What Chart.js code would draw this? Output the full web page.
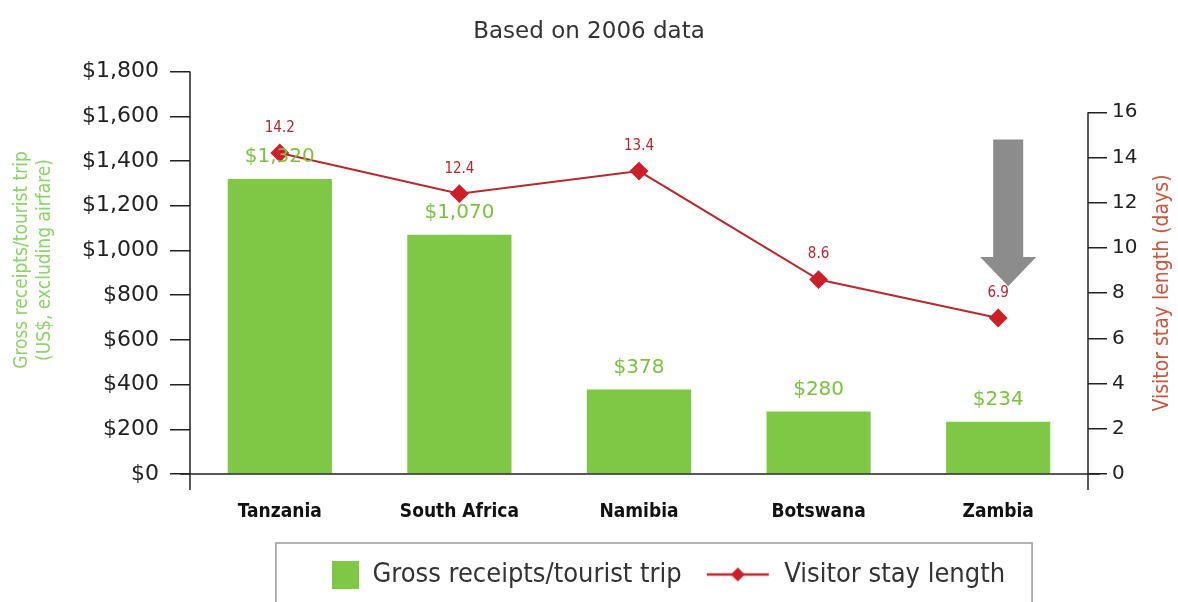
<!DOCTYPE html>
<html>
<head>
<meta charset="utf-8">
<script src="https://cdn.jsdelivr.net/npm/chart.js@4.4.0/dist/chart.umd.min.js"></script>
<style>
  html, body { margin: 0; padding: 0; background: #fff; }
  #wrap { width: 1178px; height: 602px; position: relative; }
</style>
</head>
<body>
<div id="wrap"><canvas id="grafico"></canvas></div>
<script>
// dados (2006)
const paises = ['Tanzania', 'South Africa', 'Namibia', 'Botswana', 'Zambia'];
const receitas = [1320, 1070, 378, 280, 234];      // US$ por viagem
const permanencia = [14.2, 12.4, 13.4, 8.6, 6.9];   // dias
const ticksReceita = [0, 200, 400, 600, 800, 1000, 1200, 1400, 1600, 1800];
const ticksDias = [0, 2, 4, 6, 8, 10, 12, 14, 16];

const fonte = "'DejaVu Sans', sans-serif";
const fonteCond = "'DejaVu Sans Condensed', 'Liberation Sans Narrow', sans-serif";

const verde = '#7ec845';
const vermelho = '#b8282e';

// simbolos da legenda
function simboloBarra() {
  const c = document.createElement('canvas');
  c.width = 66; c.height = 28;
  const g = c.getContext('2d');
  g.fillStyle = verde;
  g.fillRect(39, 0, 27, 28);
  return c;
}
function simboloLinha() {
  const c = document.createElement('canvas');
  c.width = 66; c.height = 18;
  const g = c.getContext('2d');
  g.strokeStyle = vermelho; g.lineWidth = 2.5;
  g.beginPath(); g.moveTo(2, 9); g.lineTo(64, 9); g.stroke();
  g.fillStyle = '#cc1f2a';
  g.beginPath(); g.moveTo(33, 2); g.lineTo(40, 9); g.lineTo(33, 16); g.lineTo(26, 9); g.closePath(); g.fill();
  return c;
}
const simbolos = [simboloBarra(), simboloLinha()];

// eixos, rotulos de valores, titulos dos eixos, seta e moldura da legenda
const extras = {
  id: 'extras',
  afterLayout(chart) {
    // legenda um pouco deslocada para a direita
    const lg = chart.legend;
    if (!lg) return;
    lg.left += 10; lg.right += 10;
    lg.legendHitBoxes.forEach(h => { h.left += 10; });
  },
  afterDatasetsDraw(chart) {
    const { ctx, chartArea: a, scales } = chart;
    const y2 = scales.y2;
    const x = scales.x;
    ctx.save();

    ctx.strokeStyle = '#222';
    ctx.lineWidth = 1.5;
    ctx.beginPath();
    ctx.moveTo(a.left, a.top); ctx.lineTo(a.left, a.bottom + 16);
    ctx.moveTo(a.left - 10, a.bottom); ctx.lineTo(a.right + 12, a.bottom);
    ctx.moveTo(a.right, y2.getPixelForValue(ticksDias[ticksDias.length - 1])); ctx.lineTo(a.right, a.bottom + 16);
    ctx.stroke();

    // valores das barras
    ctx.textAlign = 'center';
    ctx.textBaseline = 'middle';
    ctx.font = '20px ' + fonte;
    ctx.fillStyle = '#7cc142';
    chart.getDatasetMeta(0).data.forEach((el, i) => {
      ctx.fillText('$' + receitas[i].toLocaleString('en-US'), el.x, el.y - 22);
    });

    // valores da linha
    ctx.font = '15px ' + fonteCond;
    ctx.fillStyle = '#b0282e';
    chart.getDatasetMeta(1).data.forEach((el, i) => {
      ctx.fillText(permanencia[i].toFixed(1), el.x, el.y - 25);
    });

    // seta cinza
    const cx = x.getPixelForValue(4) + 10;
    const topo = y2.getPixelForValue(14.8);
    const base = y2.getPixelForValue(9.6);
    const ponta = y2.getPixelForValue(8.3);
    ctx.fillStyle = '#8c8c8c';
    ctx.beginPath();
    ctx.moveTo(cx - 15, topo); ctx.lineTo(cx + 15, topo); ctx.lineTo(cx + 15, base);
    ctx.lineTo(cx + 28, base); ctx.lineTo(cx, ponta); ctx.lineTo(cx - 28, base);
    ctx.lineTo(cx - 15, base); ctx.closePath(); ctx.fill();

    // titulos dos eixos
    ctx.font = '19px ' + fonteCond;
    ctx.fillStyle = '#8fd16a';
    ctx.save();
    ctx.translate(22, 260); ctx.rotate(-Math.PI / 2);
    ctx.fillText('Gross receipts/tourist trip', 0, 0);
    ctx.restore();
    ctx.save();
    ctx.translate(45, 260); ctx.rotate(-Math.PI / 2);
    ctx.fillText('(US$, excluding airfare)', 0, 0);
    ctx.restore();

    ctx.font = '21px ' + fonteCond;
    ctx.fillStyle = '#c9553d';
    ctx.save();
    ctx.translate(1163, 293); ctx.rotate(-Math.PI / 2);
    ctx.fillText('Visitor stay length (days)', 0, 0);
    ctx.restore();

    // moldura da legenda
    const lg = chart.legend;
    if (lg && lg.legendHitBoxes.length) {
      const hb = lg.legendHitBoxes;
      const ult = hb[hb.length - 1];
      ctx.strokeStyle = '#9a9a9a';
      ctx.lineWidth = 1.5;
      ctx.strokeRect(hb[0].left - 17, lg.top + 5, ult.left + ult.width + 27 - (hb[0].left - 17), 80);
    }
    ctx.restore();
  }
};

const ctx = document.getElementById('grafico').getContext('2d');

new Chart(ctx, {
  data: {
    labels: paises,
    datasets: [
      {
        type: 'bar',
        label: 'Gross receipts/tourist trip',
        data: receitas,
        backgroundColor: verde,
        yAxisID: 'y',
        order: 1,
        barPercentage: 0.58,
        categoryPercentage: 1
      },
      {
        type: 'line',
        label: 'Visitor stay length',
        data: permanencia,
        yAxisID: 'y2',
        order: 0,
        borderColor: vermelho,
        borderWidth: 2,
        pointStyle: 'rectRot',
        pointRadius: 8,
        pointBackgroundColor: '#cc1f2a',
        pointBorderColor: '#cc1f2a'
      }
    ]
  },
  options: {
    responsive: true,
    maintainAspectRatio: false,
    animation: false,
    layout: { padding: { top: 0, bottom: 4, left: 0, right: 0 } },
    plugins: {
      title: { display: false },
      subtitle: {
        display: true,
        text: 'Based on 2006 data',
        color: '#333',
        font: { family: fonte, size: 23 },
        padding: { top: 18, bottom: 26 }
      },
      tooltip: { enabled: false },
      legend: {
        position: 'bottom',
        fullSize: false,
        labels: {
          usePointStyle: true,
          pointStyleWidth: 66,
          boxHeight: 27,
          padding: 23,
          color: '#333',
          font: { family: fonteCond, size: 27 },
          sort: (a, b) => a.datasetIndex - b.datasetIndex,
          generateLabels: chart => {
            const itens = Chart.defaults.plugins.legend.labels.generateLabels(chart);
            itens.forEach(it => { it.pointStyle = simbolos[it.datasetIndex]; });
            return itens;
          }
        }
      }
    },
    scales: {
      x: {
        grid: { display: false, drawTicks: false },
        border: { display: false },
        ticks: {
          color: '#111',
          padding: 27,
          font: { family: fonteCond, size: 19, weight: 'bold' }
        },
        afterFit: s => { s.height = 64; }
      },
      y: {
        position: 'left',
        min: 0,
        max: 1800,
        afterBuildTicks: s => { s.ticks = ticksReceita.map(v => ({ value: v })); },
        grid: { drawOnChartArea: false, drawTicks: true, tickLength: 20, color: '#222', lineWidth: 1.5 },
        border: { display: false },
        ticks: {
          color: '#222',
          padding: 11,
          font: { family: fonte, size: 22 },
          callback: v => '$' + v.toLocaleString('en-US')
        },
        afterFit: s => { s.width = 190; }
      },
      y2: {
        position: 'right',
        min: 0,
        max: 17.8,
        afterBuildTicks: s => { s.ticks = ticksDias.map(v => ({ value: v })); },
        grid: { drawOnChartArea: false, drawTicks: true, tickLength: 19, color: '#222', lineWidth: 1.5 },
        border: { display: false },
        ticks: {
          color: '#222',
          padding: 5,
          font: { family: fonte, size: 20 }
        },
        afterFit: s => { s.width = 90; }
      }
    }
  },
  plugins: [extras]
});
</script>
</body>
</html>
